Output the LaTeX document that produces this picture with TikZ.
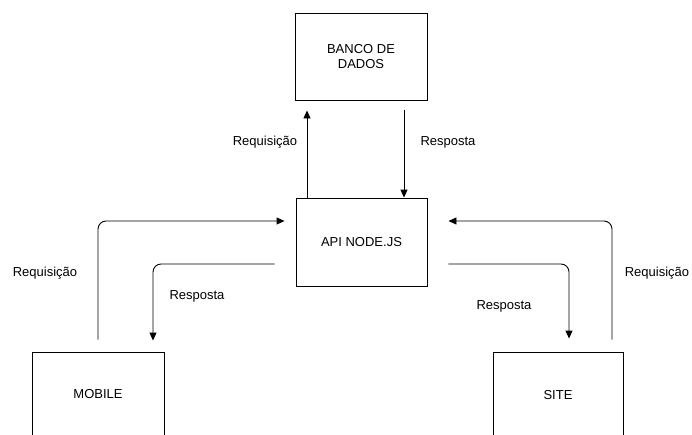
\documentclass[tikz,border=0pt]{standalone}
\usepackage{fontspec}
\setmainfont{Liberation Sans}
\usetikzlibrary{arrows.meta}
\begin{document}
\begin{tikzpicture}[x=1pt,y=-1pt,
  box/.style={draw, line width=0.9pt, inner sep=0pt, align=center,
    font=\fontsize{13}{15.5}\selectfont},
  lbl/.style={font=\fontsize{13}{15.5}\selectfont, inner sep=0pt},
  arr/.style={line width=0.9pt, -{Triangle[length=8pt,width=7pt]}, rounded corners=8pt}]
\path[use as bounding box, clip] (0,0) rectangle (692,434);
\fill[white] (0,0) rectangle (692,434);
\node[box, minimum width=132pt, minimum height=87pt] (banco) at (361,56.5) {BANCO DE\\DADOS};
\node[box, minimum width=131pt, minimum height=88pt] (api) at (361.5,242) {API NODE.JS};
\node[box, minimum width=132pt, minimum height=84pt] (mobile) at (98,394) {MOBILE};
\node[box, minimum width=130pt, minimum height=86pt] (site) at (558,395) {SITE};
% API <-> Banco
\draw[arr, shorten >=10pt] ([xshift=-54.5pt]api.north) -- ([xshift=-54pt]banco.south);
\draw[arr, shorten <=10pt] ([xshift=43pt]banco.south) -- ([xshift=42.5pt]api.north);
% Mobile
\draw[arr, shorten <=12pt, shorten >=11pt] (mobile.north) |- ([yshift=21pt]api.west);
\draw[arr, shorten <=21pt, shorten >=11pt] ([yshift=-22pt]api.west) -| ([xshift=55pt]mobile.north);
% Site
\draw[arr, shorten <=12pt, shorten >=21pt] ([xshift=54pt]site.north) |- ([yshift=21pt]api.east);
\draw[arr, shorten <=21pt, shorten >=13pt] ([yshift=-22pt]api.east) -| ([xshift=11pt]site.north);
% labels
\node[lbl] (l1) at (265,142) {Requisição};
\node[lbl] (l2) at (448,142) {Resposta};
\node[lbl] (l3) at (45,273) {Requisição};
\node[lbl] (l4) at (197,296) {Resposta};
\node[lbl] (l5) at (657,273) {Requisição};
\node[lbl] (l6) at (504,306) {Resposta};
\end{tikzpicture}
\end{document}
